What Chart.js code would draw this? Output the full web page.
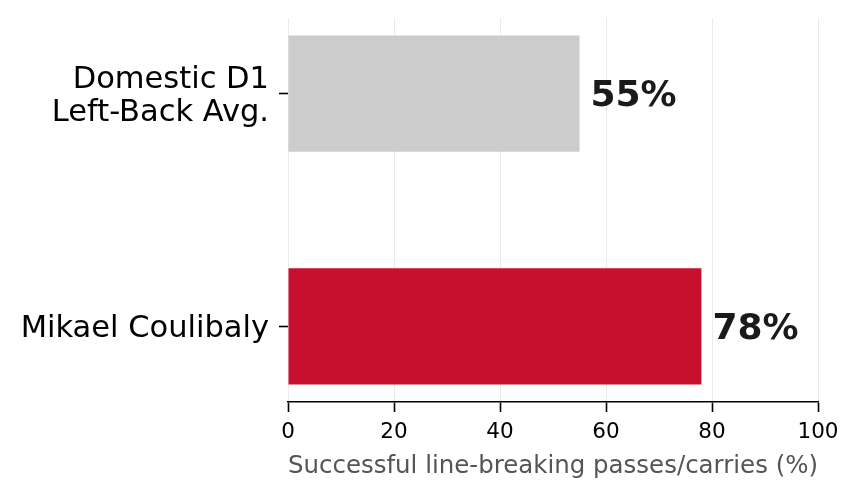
<!DOCTYPE html>
<html>
<head>
<meta charset="utf-8">
<script src="https://cdn.jsdelivr.net/npm/chart.js@4.4.1/dist/chart.umd.min.js"></script>
<style>
  html, body { margin: 0; padding: 0; background: #fff; }
  #wrap { width: 859px; height: 497px; }
</style>
</head>
<body>
<div id="wrap"><canvas id="chart" width="859" height="497"></canvas></div>
<script>
// bottom to top, like the matplotlib barh
const categories = ["Mikael Coulibaly", ["Domestic D1", "Left-Back Avg."]];
const values = [78, 55];
const barColors = ["#c8102e", "#cccccc"];
const xTicks = [0, 20, 40, 60, 80, 100];

const FONT = "'DejaVu Sans', sans-serif";

// "78%" style labels at the end of each bar
const valueLabels = {
    id: "valueLabels",
    afterDatasetsDraw(chart) {
        const ctx = chart.ctx;
        const meta = chart.getDatasetMeta(0);
        ctx.save();
        ctx.font = "bold 36px " + FONT;
        ctx.fillStyle = "#1a1a1a";
        ctx.textBaseline = "middle";
        ctx.textAlign = "left";
        meta.data.forEach((bar, i) => {
            ctx.fillText(values[i] + "%", bar.x + 11, bar.y + 3);
        });
        ctx.restore();
    }
};

new Chart(document.getElementById("chart"), {
    type: "bar",
    data: {
        datasets: [{
            data: values.map((v, i) => ({ x: v, y: i })),
            backgroundColor: barColors,
            borderWidth: 0,
            barPercentage: 0.5,
            categoryPercentage: 1.0
        }]
    },
    options: {
        indexAxis: "y",
        responsive: false,
        animation: false,
        devicePixelRatio: 1,
        layout: { padding: { top: 18, right: 41, bottom: 0, left: 0 } },
        plugins: {
            legend: { display: false },
            tooltip: { enabled: false }
        },
        scales: {
            x: {
                type: "linear",
                min: 0,
                max: 100,
                afterBuildTicks: s => { s.ticks = xTicks.map(v => ({ value: v })); },
                afterFit: s => { s.height = 95; },
                grid: {
                    color: "#ebebeb",
                    lineWidth: 1,
                    drawTicks: true,
                    tickLength: 10,
                    tickColor: "#000",
                    tickWidth: 1.6
                },
                border: { display: true, color: "#000", width: 1.6 },
                ticks: {
                    color: "#000",
                    padding: 8,
                    font: { family: FONT, size: 21.5 }
                },
                title: {
                    display: true,
                    text: "Successful line-breaking passes/carries (%)",
                    color: "#555555",
                    font: { family: FONT, size: 25.6 },
                    padding: { top: 0, bottom: 15 }
                }
            },
            y: {
                type: "linear",
                min: -0.325,
                max: 1.325,
                offset: false,
                afterBuildTicks: s => { s.ticks = categories.map((c, i) => ({ value: i })); },
                afterFit: s => { s.width = 288; s.paddingTop = 0; s.paddingBottom = 0; },
                grid: {
                    offset: false,
                    drawOnChartArea: false,
                    drawTicks: true,
                    tickLength: 9,
                    tickColor: "#000",
                    tickWidth: 1.6
                },
                border: { display: false },
                ticks: {
                    color: "#000",
                    padding: 10,
                    labelOffset: 3,
                    font: { family: FONT, size: 30.5, lineHeight: 1.06 },
                    callback: v => categories[v]
                }
            }
        }
    },
    plugins: [valueLabels]
});
</script>
</body>
</html>
